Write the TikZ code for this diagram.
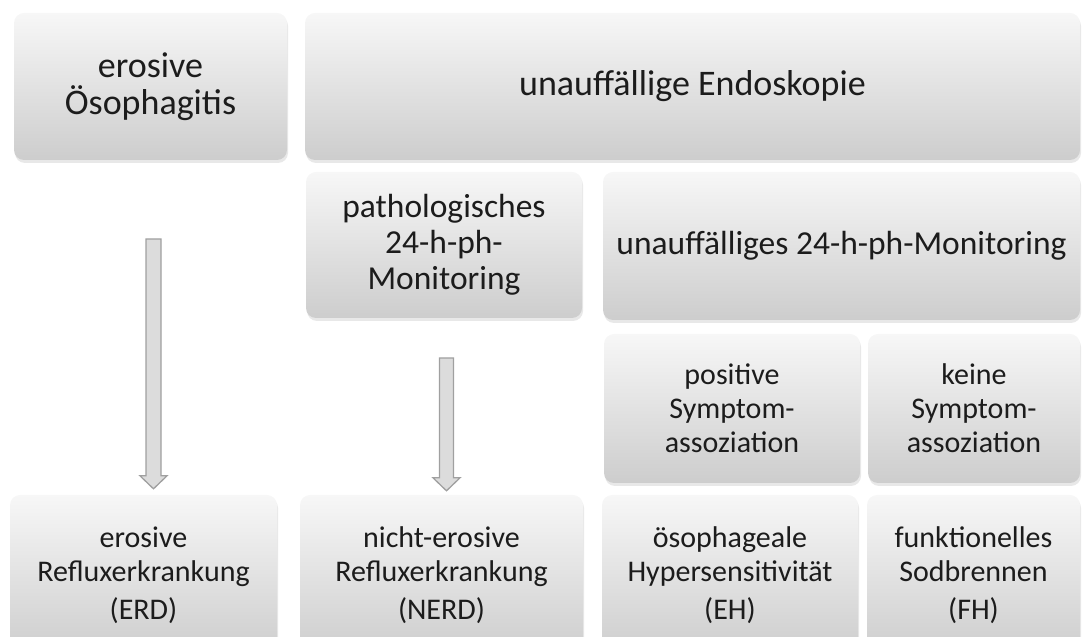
\documentclass[tikz,border=0pt]{standalone}
\usepackage{fontspec}
\setmainfont{Carlito}
\usetikzlibrary{calc,positioning,shadows}
\definecolor{gfboxtop}{HTML}{F7F7F7}
\definecolor{gfboxbot}{HTML}{CDCDCD}
\definecolor{gfink}{HTML}{1C1C1C}
\definecolor{gfarrowfill}{HTML}{DCDCDC}
\definecolor{gfarrowline}{HTML}{A0A0A0}
\tikzset{
  gfbox/.style={rounded corners=10pt,top color=gfboxtop,bottom color=gfboxbot,
    text=gfink,align=center,inner sep=0pt,
    drop shadow={opacity=0.18,shadow xshift=1pt,shadow yshift=-3pt}},
  gflarge/.style={gfbox,font=\fontsize{36}{37}\selectfont},
  gfmedium/.style={gfbox,font=\fontsize{33.5}{36}\selectfont},
  gfsmall/.style={gfbox,font=\fontsize{30}{34}\selectfont},
  gfarrow/.style={fill=gfarrowfill,draw=gfarrowline,line width=1.3pt,line join=miter},
}
% hollow block arrow from #1 (shaft top) down to #2 (tip)
\newcommand{\gfblockarrow}[3]{%
  \draw[gfarrow] ($(#1)+(-#3,0)$) -- ($(#1)+(#3,0)$) -- ($(#2)+(#3,13)$)
    -- ($(#2)+(13.5,13)$) -- (#2) -- ($(#2)+(-13.5,13)$) -- ($(#2)+(-#3,13)$) -- cycle;}

\begin{document}
\begin{tikzpicture}[x=1pt,y=1pt]
  \useasboundingbox (0,0) rectangle (1082,637);
  \clip (0,0) rectangle (1082,637);
  % befund
  \node[gflarge,minimum width=273pt,minimum height=147pt] (eroes) at (150.5,550.5) {erosive\\Ösophagitis};
  \node[gflarge,minimum width=775pt,minimum height=147pt] (endo) at (692.5,550.5) {unauffällige Endoskopie};
  \node[gfmedium,minimum width=276pt,minimum height=146pt] (pathph) at (444,392) {pathologisches\\24-h-ph-\\Monitoring};
  \node[gfmedium,minimum width=477pt,minimum height=148pt] (normph) at (841.5,391) {unauffälliges 24-h-ph-Monitoring};
  \node[gfsmall,minimum width=256pt,minimum height=149pt] (possym) at (732,228.5) {positive\\Symptom-\\assoziation};
  \node[gfsmall,minimum width=212pt,minimum height=149pt] (keinsym) at (974,228.5) {keine\\Symptom-\\assoziation};
  % diagnosen
  \foreach \n/\x/\w/\t in {erd/143.5/267/{erosive\\Refluxerkrankung\\[4pt](ERD)},
      nerd/441.5/283/{nicht-erosive\\Refluxerkrankung\\[4pt](NERD)},
      eh/730/256/{ösophageale\\Hypersensitivität\\[4pt](EH)},
      fh/973.5/213/{funktionelles\\Sodbrennen\\[4pt](FH)}}
    {\node[gfsmall,minimum width=\w pt,minimum height=160pt] (\n) at (\x,62) {\t};}
  % pfeile
  \coordinate (erdfrom) at (153.5,398);
  \coordinate (erdto) at ($(erd.north)+(10,6)$);
  \coordinate (nerdfrom) at (446.5,279);
  \coordinate (nerdto) at ($(nerd.north)+(5,4)$);
  \gfblockarrow{erdfrom}{erdto}{7.5}
  \gfblockarrow{nerdfrom}{nerdto}{7}
\end{tikzpicture}
\end{document}
